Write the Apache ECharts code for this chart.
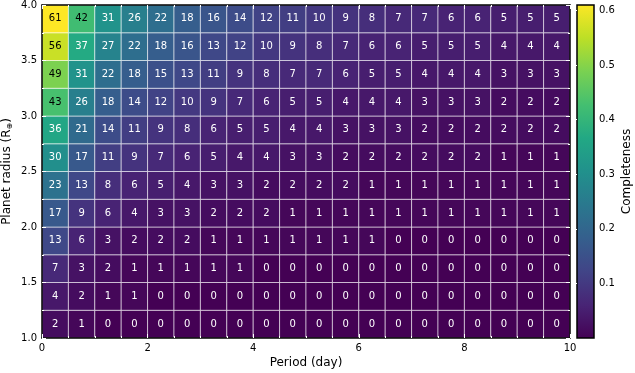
<!DOCTYPE html>
<html><head><meta charset="utf-8">
<script src="https://cdn.jsdelivr.net/npm/echarts@6/dist/echarts.min.js"></script>
<style>html,body{margin:0;padding:0;background:#fff}#c{width:635px;height:373px}</style>
</head><body><div id="c"></div>
<script>
// Bin edges
const periodEdges = [0,0.5,1,1.5,2,2.5,3,3.5,4,4.5,5,5.5,6,6.5,7,7.5,8,8.5,9,9.5,10];
const radiusEdges = [1.0,1.25,1.5,1.75,2.0,2.25,2.5,2.75,3.0,3.25,3.5,3.75,4.0];
// Completeness (%) per cell, rows from lowest radius bin to highest
const row1 = [2,1,0,0,0,0,0,0,0,0,0,0,0,0,0,0,0,0,0,0];
const row2 = [4,2,1,1,0,0,0,0,0,0,0,0,0,0,0,0,0,0,0,0];
const row3 = [7,3,2,1,1,1,1,1,0,0,0,0,0,0,0,0,0,0,0,0];
const row4 = [13,6,3,2,2,2,1,1,1,1,1,1,1,0,0,0,0,0,0,0];
const row5 = [17,9,6,4,3,3,2,2,2,1,1,1,1,1,1,1,1,1,1,1];
const row6 = [23,13,8,6,5,4,3,3,2,2,2,2,1,1,1,1,1,1,1,1];
const row7 = [30,17,11,9,7,6,5,4,4,3,3,2,2,2,2,2,2,1,1,1];
const row8 = [36,21,14,11,9,8,6,5,5,4,4,3,3,3,2,2,2,2,2,2];
const row9 = [43,26,18,14,12,10,9,7,6,5,5,4,4,4,3,3,3,2,2,2];
const row10 = [49,31,22,18,15,13,11,9,8,7,7,6,5,5,4,4,4,3,3,3];
const row11 = [56,37,27,22,18,16,13,12,10,9,8,7,6,6,5,5,5,4,4,4];
const row12 = [61,42,31,26,22,18,16,14,12,11,10,9,8,7,7,6,6,5,5,5];
const rows = [row1,row2,row3,row4,row5,row6,row7,row8,row9,row10,row11,row12];
// Tick labels
const xTicks = [0,2,4,6,8,10];
const yTicks = ['1.0','1.5','2.0','2.5','3.0','3.5','4.0'];
const cbTicks = ['0.1','0.2','0.3','0.4','0.5','0.6'];
const cbRange = [0, 0.61];

const viridis = ['#440154','#482475','#414487','#355f8d','#2a788e','#21918c','#22a884','#44bf70','#7ad151','#bddf26','#fde725'];
const FONT = 'DejaVu Sans';

const cells = [];
rows.forEach((r, j) => r.forEach((v, i) => {
  cells.push([periodEdges[i], periodEdges[i+1], radiusEdges[j], radiusEdges[j+1], v]);
}));

const chart = echarts.init(document.getElementById('c'));
const tickInside = {show:true, inside:true, length:4, lineStyle:{color:'#fff', width:1}};
chart.setOption({
  animation:false,
  backgroundColor:'#fff',
  grid:[
    {left:42, top:5, width:528, height:333, show:false, containLabel:false, outerBoundsMode:'none'},
    {left:577, top:5, width:17, height:333, show:false, containLabel:false, outerBoundsMode:'none'}
  ],
  xAxis:[
    {type:'value', gridIndex:0, min:xTicks[0], max:xTicks[xTicks.length-1], interval:2, position:'bottom', z:10,
     axisLine:{show:true, onZero:false, lineStyle:{color:'#000', width:1.5}},
     axisTick:tickInside, minorTick:{show:true, splitNumber:4, length:2, lineStyle:{color:'#fff'}},
     axisLabel:{color:'#000', fontFamily:FONT, fontSize:10, margin:5},
     splitLine:{show:false}, nameMoveOverlap:false,
     name:'Period (day)', nameLocation:'middle', nameGap:19, nameTextStyle:{color:'#000', fontFamily:FONT, fontSize:12}},
    {type:'value', gridIndex:0, min:0, max:10, interval:2, position:'top', z:10,
     axisLine:{show:true, onZero:false, lineStyle:{color:'#000', width:1.5}},
     axisTick:tickInside, minorTick:{show:true, splitNumber:4, length:2, lineStyle:{color:'#fff'}},
     axisLabel:{show:false}, splitLine:{show:false}},
    {type:'value', gridIndex:1, min:0, max:1, show:false}
  ],
  yAxis:[
    {type:'value', gridIndex:0, min:1, max:4, interval:0.5, position:'left', z:10,
     axisLine:{show:true, onZero:false, lineStyle:{color:'#000', width:1.5}},
     axisTick:tickInside, minorTick:{show:true, splitNumber:2, length:2, lineStyle:{color:'#fff'}},
     axisLabel:{color:'#000', fontFamily:FONT, fontSize:10, margin:5, formatter:v=>v.toFixed(1)},
     splitLine:{show:false}, nameMoveOverlap:false,
     name:'Planet radius (R{s|⊕})', nameLocation:'middle', nameGap:28, nameRotate:90,
     nameTextStyle:{color:'#000', fontFamily:FONT, fontSize:12, rich:{s:{fontSize:8, fontFamily:FONT, color:'#000', verticalAlign:'bottom', padding:[6,0,0,0]}}}},
    {type:'value', gridIndex:0, min:1, max:4, interval:0.5, position:'right', z:10,
     axisLine:{show:true, onZero:false, lineStyle:{color:'#000', width:1.5}},
     axisTick:tickInside, minorTick:{show:true, splitNumber:2, length:2, lineStyle:{color:'#fff'}},
     axisLabel:{show:false}, splitLine:{show:false}},
    {type:'value', gridIndex:1, min:cbRange[0], max:cbRange[1], interval:0.1, position:'right', z:10,
     axisLine:{show:false},
     axisTick:{show:true, inside:true, length:3, lineStyle:{color:'#fff'}},
     axisLabel:{color:'#000', fontFamily:FONT, fontSize:10, margin:5, showMinLabel:false, showMaxLabel:false,
       formatter:v=>{const s=v.toFixed(1); return cbTicks.indexOf(s)>=0?s:'';}},
     splitLine:{show:false}, nameMoveOverlap:false,
     name:'Completeness', nameLocation:'middle', nameGap:27, nameRotate:90,
     nameTextStyle:{color:'#000', fontFamily:FONT, fontSize:12}}
  ],
  visualMap:{type:'continuous', show:false, min:0, max:cbRange[1]*100, dimension:4, seriesIndex:0,
    inRange:{color:viridis}},
  series:[
    {type:'custom', xAxisIndex:0, yAxisIndex:0, data:cells,
     encode:{x:[0,1], y:[2,3]},
     renderItem:function(params, api){
       const p0 = api.coord([api.value(0), api.value(2)]);
       const p1 = api.coord([api.value(1), api.value(3)]);
       const v = api.value(4);
       const x = Math.min(p0[0],p1[0]), y = Math.min(p0[1],p1[1]);
       const w = Math.abs(p1[0]-p0[0]), h = Math.abs(p1[1]-p0[1]);
       return {type:'group', children:[
         {type:'rect', shape:{x:x, y:y, width:w, height:h},
          style:{fill:api.visual('color'), stroke:'rgba(255,255,255,0.55)', lineWidth:1}},
         {type:'text', style:{x:x+w/2, y:y+h/2, text:String(v), fill: v>=40?'#000':'#fff',
           font:'10px "DejaVu Sans"', align:'center', verticalAlign:'middle'}}
       ]};
     }},
    {type:'custom', xAxisIndex:2, yAxisIndex:2, data:[[0,1,cbRange[0],cbRange[1]]],
     renderItem:function(params, api){
       const p0 = api.coord([api.value(0), api.value(2)]);
       const p1 = api.coord([api.value(1), api.value(3)]);
       return {type:'rect', shape:{x:p0[0], y:p1[1], width:p1[0]-p0[0], height:p0[1]-p1[1]},
         style:{fill:new echarts.graphic.LinearGradient(0,1,0,0, viridis.map((c,i)=>({offset:i/(viridis.length-1), color:c}))),
           stroke:'#000', lineWidth:1.5}};
     }}
  ]
});
</script></body></html>
